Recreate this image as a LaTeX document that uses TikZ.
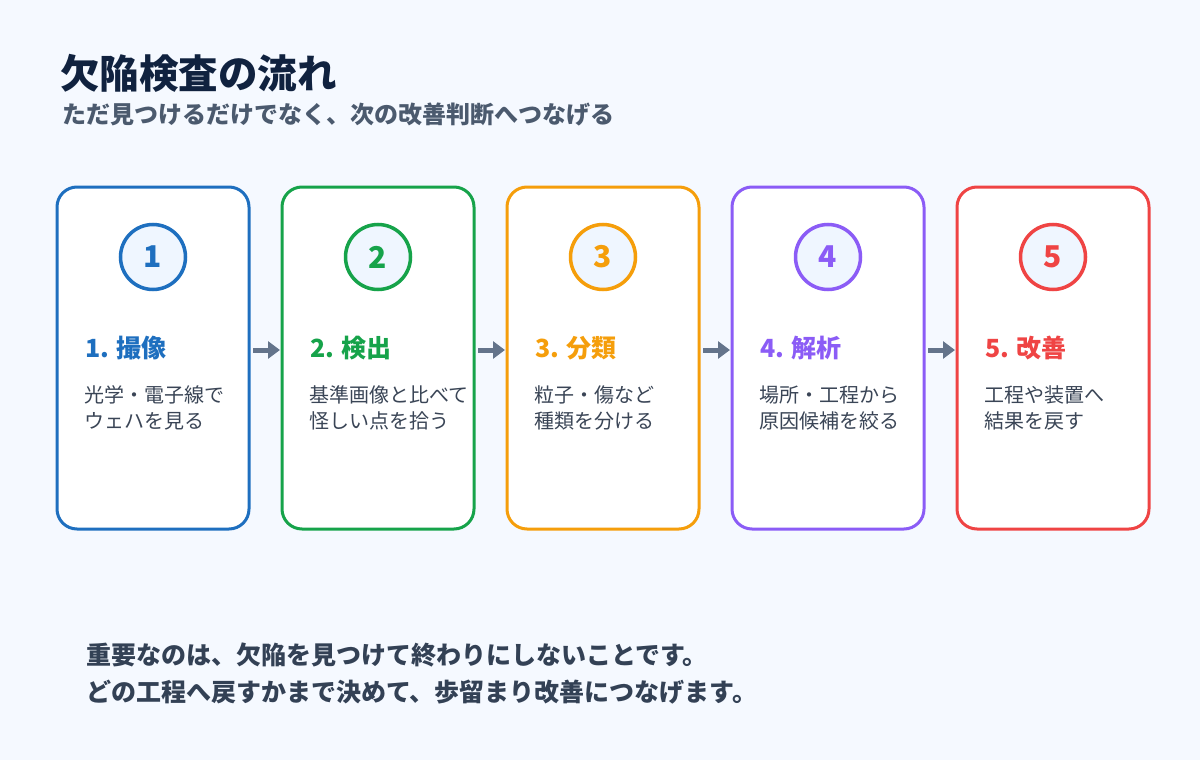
\documentclass[tikz,border=0pt]{standalone}
\usepackage{fontspec}
\setmainfont{Noto Sans CJK JP}
\usetikzlibrary{arrows.meta}
\definecolor{bg}{HTML}{F5F9FF}
\definecolor{titlec}{HTML}{10223F}
\definecolor{subc}{HTML}{4B5A6E}
\definecolor{descc}{HTML}{3A4556}
\definecolor{bottomc}{HTML}{334155}
\definecolor{arrc}{HTML}{64748B}
\definecolor{circfill}{HTML}{EFF6FF}
\definecolor{cA}{HTML}{1E6FBF}
\definecolor{cB}{HTML}{16A34A}
\definecolor{cC}{HTML}{F59E0B}
\definecolor{cD}{HTML}{8B5CF6}
\definecolor{cE}{HTML}{EF4444}
\tikzset{
  card/.style={draw=#1, fill=white, line width=3pt, rounded corners=20pt,
    minimum width=192pt, minimum height=342pt, outer sep=0pt, inner sep=0pt},
  numcirc/.style={circle, draw=#1, fill=circfill, line width=3.5pt,
    minimum size=65pt, inner sep=0pt, text=#1, font=\fontsize{30}{30}\selectfont\bfseries},
  steptitle/.style={anchor=west, text=#1, font=\fontsize{25}{28}\selectfont\bfseries, inner sep=0pt},
  desc/.style={anchor=west, text=descc, font=\fontsize{20}{24}\selectfont, inner sep=0pt},
  bottomtext/.style={anchor=west, inner sep=0pt, text=bottomc, font=\fontsize{25}{28}\selectfont\bfseries},
  arr/.style={draw=arrc, line width=5pt, -{Triangle[length=12pt,width=17pt]},
    shorten <=4pt, shorten >=2pt},
}
\begin{document}
\begin{tikzpicture}[x=1pt,y=-1pt]
\fill[bg] (0,0) rectangle (1200,760);
\useasboundingbox (0,0) rectangle (1200,760);

\node[anchor=west, inner sep=0pt, text=titlec, font=\fontsize{39.5}{44}\selectfont\bfseries] (title) at (60,73) {欠陥検査の流れ};
\node[anchor=west, inner sep=0pt, text=subc, font=\fontsize{24}{28}\selectfont\bfseries] (sub) at (62,114) {ただ見つけるだけでなく、次の改善判断へつなげる};

\foreach \i/\c/\t/\da/\db [count=\k] in {
  0/cA/撮像/光学・電子線で/ウェハを見る,
  1/cB/検出/基準画像と比べて/怪しい点を拾う,
  2/cC/分類/粒子・傷など/種類を分ける,
  3/cD/解析/場所・工程から/原因候補を絞る,
  4/cE/改善/工程や装置へ/結果を戻す}{
  \node[card=\c] (card\k) at (153+225*\i,358) {};
  \node[numcirc=\c] (num\k) at (153+225*\i,257) {\k};
  \node[steptitle=\c] (st\k) at (85+225*\i,348) {\k. \t};
  \node[desc] (da\k) at (84+225*\i,395) {\da};
  \node[desc] (db\k) at (84+225*\i,421) {\db};
}

\foreach \a/\b in {1/2,2/3,3/4,4/5}{
  \draw[arr] ([yshift=8pt]card\a.east) -- ([yshift=8pt]card\b.west);
}

\node[bottomtext] (b1) at (86,655) {重要なのは、欠陥を見つけて終わりにしないことです。};
\node[bottomtext] (b2) at (86,692) {どの工程へ戻すかまで決めて、歩留まり改善につなげます。};
\end{tikzpicture}
\end{document}
